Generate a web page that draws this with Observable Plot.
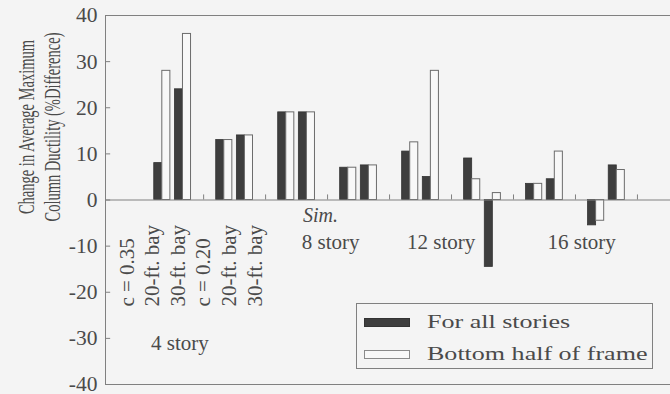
<!DOCTYPE html>
<html>
<head>
<meta charset="utf-8">
<script src="https://cdn.jsdelivr.net/npm/d3@7"></script>
<script src="https://cdn.jsdelivr.net/npm/@observablehq/plot@0.6"></script>
<style>
  html, body { margin: 0; padding: 0; background: #f4f4f4; }
  #chart { position: relative; width: 670px; height: 394px; overflow: hidden;
           font-family: "Liberation Serif", "Times New Roman", serif; color: #4a4a4a; }
  #chart svg { display: block; }
  .ytitle { position: absolute; left: 40px; top: 127px; white-space: nowrap; text-align: center;
            font-size: 14.5px; line-height: 15.6px;
            transform: translate(-50%, -50%) rotate(-90deg) scale(1, 1.6); }
  .legend { position: absolute; left: 356px; top: 303px; width: 295px; height: 64px;
            border: 1px solid #808080; }
  .legend .sw { position: absolute; left: 7px; width: 46px; height: 9px; box-sizing: border-box; }
  .legend .lab { position: absolute; left: 70px; font-size: 19px; line-height: 19px; white-space: nowrap;
                 transform: scaleX(1.37); transform-origin: left center; }
</style>
</head>
<body>
<div id="chart"></div>
<script>
// Change in average maximum column ductility (% difference) for each frame case
const storyLabels = ["4 story", "8 story", "12 story", "16 story"];
const caseLabels = ["c = 0.35", "20-ft. bay", "30-ft. bay", "c = 0.20", "20-ft. bay", "30-ft. bay"];
const seriesNames = ["For all stories", "Bottom half of frame"];
const pairStory = [
  "4 story", "4 story", "4 story", "4 story",
  "8 story", "8 story", "8 story", "8 story",
  "12 story", "12 story", "12 story", "12 story",
  "16 story", "16 story", "16 story", "16 story"
];
const forAllStories = [8, 24, 13, 14, 19, 19, 7, 7.5, 10.5, 5, 9, -14.5, 3.5, 4.5, -5.5, 7.5];
const bottomHalf    = [28, 36, 13, 14, 19, 19, 7, 7.5, 12.5, 28, 4.5, 1.5, 3.5, 10.5, -4.5, 6.5];
const yTicks = [-40, -30, -20, -10, 0, 10, 20, 30, 40];

// Layout: pairs of bars sit two to a group, three x-units per group
const unitsPerGroup = 3;
const barWidth = 0.39;
const xDomain = [-1.75, 25.6];
const groupCount = forAllStories.length / 2;

const pairCenter = (i) => Math.floor(i / 2) * unitsPerGroup + 1 + (i % 2);
const rows = forAllStories.flatMap((v, i) => {
  const c = pairCenter(i);
  return [
    {series: seriesNames[0], story: pairStory[i], value: v, x1: c - barWidth, x2: c},
    {series: seriesNames[1], story: pairStory[i], value: bottomHalf[i], x1: c, x2: c + barWidth}
  ];
});
const groupEdges = d3.range(1, groupCount + 1).map((g) => g * unitsPerGroup);

const lineColor = "#808080";
const darkFill = "#3e3e3e";

const storyLabelX = [1.85, 9.15, 14.5, 21.3];
const storyLabelY = [-31.1, -9.2, -9.2, -9.2];

const plot = Plot.plot({
  width: 670,
  height: 394,
  marginLeft: 105,
  marginRight: 0,
  marginTop: 15,
  marginBottom: 10,
  style: {background: "#f4f4f4", color: "#4a4a4a", fontFamily: "Liberation Serif, Times New Roman, serif"},
  x: {type: "linear", domain: xDomain, axis: null},
  y: {domain: [-40, 40], axis: null, label: null},
  marks: [
    // frame: top, bottom and left edges
    Plot.ruleY([-40, 40], {stroke: lineColor}),
    Plot.ruleX([xDomain[0]], {stroke: lineColor}),
    // inward y ticks
    Plot.ruleY(yTicks, {x1: xDomain[0], x2: xDomain[0] + 0.25, stroke: lineColor}),
    Plot.axisY(yTicks, {
      tickSize: 0, tickPadding: 8, fontSize: 21.5, label: null,
      tickFormat: (d) => String(d), ariaLabel: "y-tick-labels"
    }),
    // bars
    Plot.rectY(rows.filter((d) => d.series === seriesNames[0]),
      {x1: "x1", x2: "x2", y: "value", fill: darkFill, stroke: "#333", strokeWidth: 0.8}),
    Plot.rectY(rows.filter((d) => d.series === seriesNames[1]),
      {x1: "x1", x2: "x2", y: "value", fill: "#f8f8f8", stroke: "#6c6c6c", strokeWidth: 1}),
    // zero line with group separators
    Plot.ruleY([0], {stroke: lineColor}),
    Plot.ruleX(groupEdges, {y1: 0, y2: 1.1, stroke: lineColor}),
    // case labels for the 4-story frames
    Plot.text(caseLabels, {
      x: (d, i) => -0.72 + i * 1.24, y: -23.1, rotate: -90, textAnchor: "start",
      fontSize: 21, fill: "#4a4a4a", ariaLabel: "case-labels"
    }),
    Plot.text(["Sim."], {x: 8.66, y: -3.4, fontSize: 20, fontStyle: "italic", fill: "#4a4a4a", ariaLabel: "sim-label"}),
    Plot.text(storyLabels, {
      x: (d, i) => storyLabelX[i], y: (d, i) => storyLabelY[i],
      fontSize: 21, fill: "#4a4a4a", ariaLabel: "story-labels"
    })
  ]
});

// widen the glyphs of selected text groups in place
function stretchText(svg, label, sx, sy = 1) {
  svg.querySelectorAll(`g[aria-label="${label}"] text`).forEach((t) => {
    const tr = t.getAttribute("transform") || "";
    t.setAttribute("transform", `${tr} scale(${sx},${sy})`);
  });
}
stretchText(plot, "y-tick-labels", 1.12);
stretchText(plot, "case-labels", 1, 1.1);
stretchText(plot, "story-labels", 1.09);
stretchText(plot, "sim-label", 1.05);

const chart = document.getElementById("chart");
chart.appendChild(plot);

// y-axis title (two lines, rotated)
const title = document.createElement("div");
title.className = "ytitle";
title.innerHTML = "Change in Average Maximum<br>Column Ductility (%Difference)";
chart.appendChild(title);

// legend box
const legend = document.createElement("div");
legend.className = "legend";
const swatches = [
  {top: 14, style: `background:${darkFill};border:1px solid #333;`},
  {top: 46, style: "background:#f8f8f8;border:1px solid #8a8a8a;"}
];
seriesNames.forEach((name, i) => {
  const sw = document.createElement("div");
  sw.className = "sw";
  sw.style.cssText = `top:${swatches[i].top}px;${swatches[i].style}`;
  legend.appendChild(sw);
  const lab = document.createElement("div");
  lab.className = "lab";
  lab.style.top = (i === 0 ? 8 : 40) + "px";
  lab.textContent = name;
  legend.appendChild(lab);
});
chart.appendChild(legend);
</script>
</body>
</html>
